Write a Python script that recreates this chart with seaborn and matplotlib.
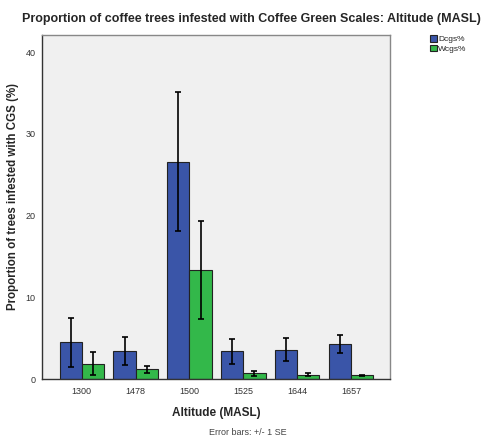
import matplotlib
matplotlib.use("Agg")
import matplotlib.pyplot as plt
import seaborn as sns
import pandas as pd
import numpy as np

altitudes = ["1300", "1478", "1500", "1525", "1644", "1657"]
dcgs_mean = [4.5, 3.4, 26.6, 3.4, 3.6, 4.3]
dcgs_se = [3.0, 1.7, 8.5, 1.5, 1.4, 1.15]
wcgs_mean = [1.9, 1.2, 13.4, 0.7, 0.55, 0.45]
wcgs_se = [1.4, 0.45, 6.0, 0.3, 0.15, 0.12]
series = ["Dcgs%", "Wcgs%"]
colors = ["#3a55a8", "#33b84a"]

sns.set_theme(style="white")
plt.rcParams["font.family"] = ["Liberation Sans", "DejaVu Sans"]

df = pd.DataFrame({
    "Altitude": altitudes * 2,
    "Series": [series[0]] * 6 + [series[1]] * 6,
    "Value": dcgs_mean + wcgs_mean,
})

fig = plt.figure(figsize=(5.03, 4.44), dpi=100)
ax = fig.add_axes([0.0835, 0.146, 0.692, 0.775])
ax.set_facecolor("#f0f0f0")

sns.barplot(data=df, x="Altitude", y="Value", hue="Series", order=altitudes,
            hue_order=series, palette=colors, errorbar=None, width=0.82,
            edgecolor="#222222", linewidth=0.8, saturation=1, ax=ax)

ses = [dcgs_se, wcgs_se]
for container, se in zip(ax.containers, ses):
    xs = [p.get_x() + p.get_width() / 2 for p in container.patches]
    hs = [p.get_height() for p in container.patches]
    ax.errorbar(xs, hs, yerr=se, fmt="none", ecolor="black", elinewidth=1.2,
                capsize=2.5, capthick=1.2, zorder=5)

ax.set_ylim(0, 42.1)
ax.set_xlim(-0.735, 5.72)
ax.set_yticks([0, 10, 20, 30, 40])
ax.tick_params(axis="both", labelsize=6.5, colors="#333333", length=3, width=0.8, pad=1.5)
ax.tick_params(axis="x", length=4)
ax.set_xlabel("Altitude (MASL)", fontsize=8.5, fontweight="bold", labelpad=8)
ax.set_ylabel("Proportion of trees infested with CGS (%)", fontsize=8.3, fontweight="bold")
ax.yaxis.set_label_coords(-0.066, 0.53)
for s in ["top", "right"]:
    ax.spines[s].set_color("#888888")
    ax.spines[s].set_linewidth(1.0)
for s in ["left", "bottom"]:
    ax.spines[s].set_color("#333333")
    ax.spines[s].set_linewidth(1.0)

leg = ax.legend(title=None, loc="upper left", bbox_to_anchor=(1.105, 1.01), frameon=False,
                fontsize=6, handlelength=0.8, handleheight=0.9, handletextpad=0.2,
                labelspacing=0.15, borderaxespad=0)

fig.text(0.5, 0.958, "Proportion of coffee trees infested with Coffee Green Scales: Altitude (MASL)",
         ha="center", va="center", fontsize=9, fontweight="bold")
fig.text(0.493, 0.025, "Error bars: +/- 1 SE", ha="center", va="center", fontsize=6.5, color="#444444")

fig.savefig("out.png", dpi=100)
